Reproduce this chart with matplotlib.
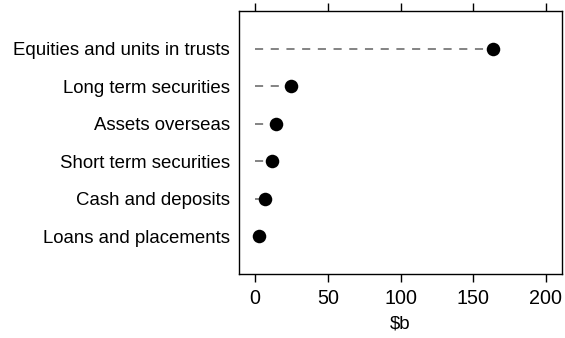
import matplotlib
matplotlib.use("Agg")
import matplotlib.pyplot as plt

# Holdings by asset type, $ billion (bottom row first)
categories = [
    "Loans and placements",
    "Cash and deposits",
    "Short term securities",
    "Assets overseas",
    "Long term securities",
    "Equities and units in trusts",
]
values = [3.0, 6.6, 11.7, 14.7, 25.0, 163.8]
xticks = [0, 50, 100, 150, 200]
xlabel = "$b"

plt.rcParams["font.family"] = ["Liberation Sans", "DejaVu Sans"]

fig = plt.figure(figsize=(5.65, 3.38), dpi=100)
ax = fig.add_axes([239 / 565, 1 - 274 / 338, (562 - 239) / 565, (274 - 11) / 338])

ypos = list(range(1, len(categories) + 1))
for y, v in zip(ypos, values):
    ax.plot([0, v], [y, y], color="#7a7a7a", lw=1.3, dashes=(4.5, 4.2))
ax.scatter(values, ypos, s=95, color="black", zorder=3, linewidths=0)

ax.set_xlim(-11, 211)
ax.set_ylim(0, 7)
ax.set_yticks(ypos)
ax.set_yticklabels(categories, fontsize=13.4)
ax.tick_params(axis="y", length=0, pad=6.5)
ax.set_xticks(xticks)
ax.set_xticklabels([str(t) for t in xticks], fontsize=14.2)
ax.tick_params(axis="x", top=True, bottom=True, direction="out", length=6, width=1, pad=4.5)
ax.set_xlabel(xlabel, fontsize=13.4, labelpad=5.5)
for s in ax.spines.values():
    s.set_linewidth(1.0)

fig.savefig("out.png", dpi=100)
